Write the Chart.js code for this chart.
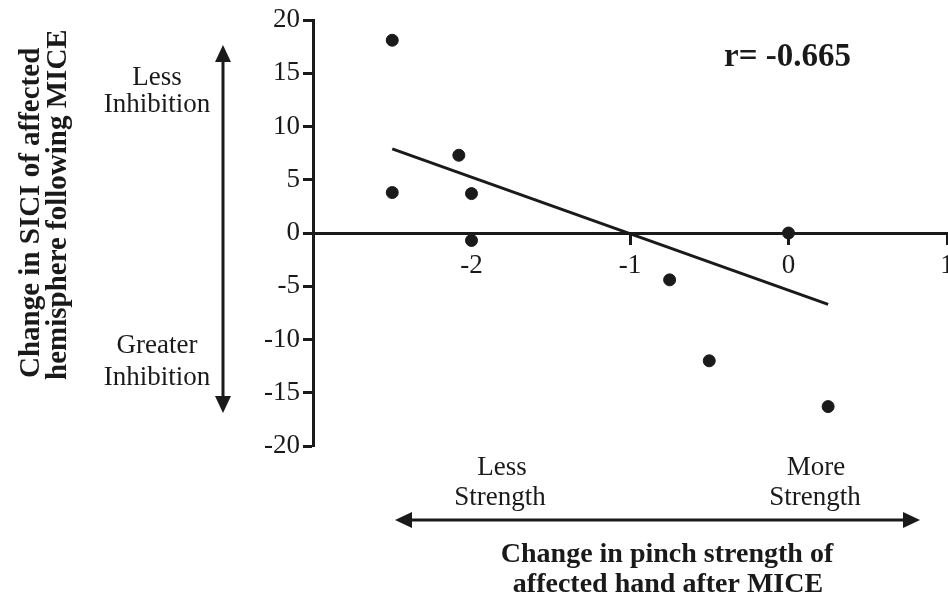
<!DOCTYPE html>
<html>
<head>
<meta charset="utf-8">
<script src="https://cdn.jsdelivr.net/npm/chart.js@4.4.0/dist/chart.umd.min.js"></script>
<style>
  html, body { margin: 0; padding: 0; background: #fff; }
</style>
</head>
<body>
<canvas id="sici" width="948" height="598"></canvas>
<script>
// change in pinch strength (x) vs change in SICI (y), one dot per patient
const pinchChange = [-2.5, -2.5, -2.08, -2, -2, -0.75, -0.5, 0, 0.25];
const siciChange = [18.1, 3.8, 7.3, 3.7, -0.7, -4.4, -12.0, 0, -16.3];

// ends of the regression line as drawn
const fitX = [-2.5, 0.25];
const fitY = [7.9, -6.7];

const xTicks = [-3, -2, -1, 0, 1];
const yTicks = [-20, -15, -10, -5, 0, 5, 10, 15, 20];
const rText = 'r= -0.665';

const ink = '#1a1a1a';
const tickFont = { family: 'Liberation Serif', size: 27 };

function text(ctx, str, x, y, font, align) {
    ctx.font = font;
    ctx.textAlign = align || 'center';
    ctx.textBaseline = 'alphabetic';
    ctx.fillText(str, x, y);
}

function arrowHead(ctx, x, y, dx, dy) {
    // tip at (x, y), pointing along (dx, dy)
    const len = 17, half = 8;
    const px = -dy, py = dx;
    ctx.beginPath();
    ctx.moveTo(x, y);
    ctx.lineTo(x - dx * len + px * half, y - dy * len + py * half);
    ctx.lineTo(x - dx * len - px * half, y - dy * len - py * half);
    ctx.closePath();
    ctx.fill();
}

const notes = {
    id: 'notes',
    afterDraw(chart) {
        const ctx = chart.ctx;
        ctx.save();
        ctx.fillStyle = ink;
        ctx.strokeStyle = ink;

        // y axis title, rotated
        const titleFont = 'bold 29px "Liberation Serif"';
        ctx.save();
        ctx.translate(39, 378);
        ctx.rotate(-Math.PI / 2);
        text(ctx, 'Change in SICI of affected', 0, 0, titleFont, 'left');
        ctx.restore();
        ctx.save();
        ctx.translate(66, 380);
        ctx.rotate(-Math.PI / 2);
        text(ctx, 'hemisphere following MICE', 0, 0, titleFont, 'left');
        ctx.restore();

        // vertical double arrow
        ctx.lineWidth = 3;
        ctx.beginPath();
        ctx.moveTo(223, 55);
        ctx.lineTo(223, 403);
        ctx.stroke();
        arrowHead(ctx, 223, 45, 0, -1);
        arrowHead(ctx, 223, 413, 0, 1);

        const note = '27px "Liberation Serif"';
        text(ctx, 'Less', 157, 85, note);
        text(ctx, 'Inhibition', 157, 112, note);
        text(ctx, 'Greater', 157, 353, note);
        text(ctx, 'Inhibition', 157, 385, note);

        // horizontal double arrow
        ctx.beginPath();
        ctx.moveTo(405, 520);
        ctx.lineTo(910, 520);
        ctx.stroke();
        arrowHead(ctx, 395, 520, -1, 0);
        arrowHead(ctx, 920, 520, 1, 0);

        text(ctx, 'Less', 502, 475, note);
        text(ctx, 'Strength', 500, 505, note);
        text(ctx, 'More', 816, 475, note);
        text(ctx, 'Strength', 815, 505, note);

        // x axis title
        const xFont = 'bold 28px "Liberation Serif"';
        text(ctx, 'Change in pinch strength of', 667, 562, xFont);
        text(ctx, 'affected hand after MICE', 668, 592, xFont);

        // correlation
        text(ctx, rText, 724, 66, 'bold 33px "Liberation Serif"', 'left');
        ctx.restore();
    }
};

const ctx = document.getElementById('sici').getContext('2d');
const chart = new Chart(ctx, {
    type: 'scatter',
    data: {
        datasets: [{
            data: pinchChange.map((x, i) => ({ x: x, y: siciChange[i] })),
            backgroundColor: ink,
            borderColor: ink,
            pointRadius: 6,
            pointHoverRadius: 6
        }, {
            type: 'line',
            data: fitX.map((x, i) => ({ x: x, y: fitY[i] })),
            borderColor: ink,
            borderWidth: 3,
            pointRadius: 0,
            fill: false
        }]
    },
    options: {
        responsive: false,
        animation: false,
        layout: { autoPadding: false, padding: { left: 0, top: 20, right: 1, bottom: 152 } },
        plugins: {
            legend: { display: false },
            tooltip: { enabled: false }
        },
        scales: {
            x: {
                type: 'linear',
                position: { y: 0 },
                min: -3,
                max: 1,
                afterBuildTicks: s => { s.ticks = xTicks.map(v => ({ value: v })); },
                afterFit: s => { s.paddingLeft = 0; s.paddingRight = 0; },
                ticks: {
                    font: tickFont,
                    color: ink,
                    padding: 7,
                    maxRotation: 0,
                    callback: v => v === -3 ? '' : String(v)
                },
                grid: { drawOnChartArea: false, tickLength: 10, tickWidth: 3, tickColor: ink },
                border: { color: ink, width: 3 }
            },
            y: {
                position: 'left',
                min: -20,
                max: 20,
                afterBuildTicks: s => { s.ticks = yTicks.map(v => ({ value: v })); },
                afterFit: s => { s.width = 313; },
                ticks: { font: tickFont, color: ink, padding: 3, callback: v => String(v) },
                grid: { drawOnChartArea: false, tickLength: 10, tickWidth: 3, tickColor: ink },
                border: { color: ink, width: 3 }
            }
        }
    },
    plugins: [notes]
});
</script>
</body>
</html>
